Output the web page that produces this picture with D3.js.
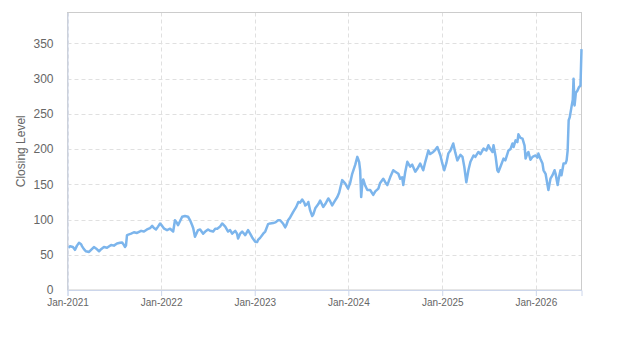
<!DOCTYPE html>
<html>
<head>
<meta charset="utf-8">
<script src="https://cdn.jsdelivr.net/npm/d3@7"></script>
<style>
  body { margin: 0; background: #fff; }
  svg { font-family: "Liberation Sans", Arial, sans-serif; }
</style>
</head>
<body>
<div id="chart"></div>
<script>
// closing level, sampled from the chart
var dates = [
  "2021-01-04","2021-01-11","2021-01-22","2021-01-30","2021-02-07","2021-02-15","2021-02-23","2021-02-27",
  "2021-03-06","2021-03-14","2021-03-26","2021-04-03","2021-04-14","2021-04-22","2021-05-04","2021-05-12",
  "2021-05-23","2021-06-04","2021-06-20","2021-07-01","2021-07-13","2021-07-25","2021-08-02","2021-08-09",
  "2021-08-13","2021-08-17","2021-08-21","2021-08-29","2021-09-06","2021-09-17","2021-09-29","2021-10-15",
  "2021-10-26","2021-11-07","2021-11-19","2021-11-27","2021-12-04","2021-12-12","2021-12-20","2021-12-28",
  "2022-01-05","2022-01-13","2022-01-24","2022-02-05","2022-02-17","2022-02-24","2022-03-04","2022-03-08",
  "2022-03-16","2022-03-24","2022-04-04","2022-04-16","2022-04-24","2022-05-02","2022-05-06","2022-05-13",
  "2022-05-21","2022-05-25","2022-06-02","2022-06-14","2022-06-22","2022-07-03","2022-07-11","2022-07-23",
  "2022-07-31","2022-08-08","2022-08-19","2022-08-27","2022-09-08","2022-09-19","2022-09-27","2022-10-05",
  "2022-10-17","2022-10-24","2022-10-28","2022-11-05","2022-11-13","2022-11-25","2022-12-06","2022-12-14",
  "2022-12-22","2023-01-03","2023-01-10","2023-01-14","2023-01-22","2023-02-03","2023-02-11","2023-02-22",
  "2023-03-02","2023-03-14","2023-03-22","2023-04-02","2023-04-10","2023-04-22","2023-04-30","2023-05-04",
  "2023-05-11","2023-05-19","2023-05-31","2023-06-12","2023-06-20","2023-06-27","2023-07-05","2023-07-13",
  "2023-07-17","2023-07-25","2023-07-29","2023-08-05","2023-08-13","2023-08-17","2023-08-25","2023-09-06",
  "2023-09-13","2023-09-25","2023-10-03","2023-10-15","2023-10-22","2023-10-30","2023-11-07","2023-11-19",
  "2023-11-26","2023-12-08","2023-12-20","2023-12-31","2024-01-08","2024-01-16","2024-01-28","2024-02-05",
  "2024-02-08","2024-02-12","2024-02-16","2024-02-20","2024-02-24","2024-02-28","2024-03-07","2024-03-15",
  "2024-03-26","2024-04-07","2024-04-15","2024-04-27","2024-05-04","2024-05-16","2024-05-24","2024-06-01",
  "2024-06-12","2024-06-24","2024-07-02","2024-07-14","2024-07-21","2024-07-29","2024-08-02","2024-08-10",
  "2024-08-18","2024-08-29","2024-09-06","2024-09-18","2024-09-26","2024-10-07","2024-10-19","2024-10-27",
  "2024-11-08","2024-11-15","2024-11-27","2024-12-05","2024-12-13","2024-12-25","2025-01-01","2025-01-09",
  "2025-01-17","2025-01-25","2025-02-02","2025-02-13","2025-02-21","2025-03-01","2025-03-13","2025-03-21",
  "2025-03-28","2025-04-05","2025-04-13","2025-04-21","2025-05-03","2025-05-10","2025-05-22","2025-05-30",
  "2025-06-11","2025-06-22","2025-06-30","2025-07-08","2025-07-16","2025-07-20","2025-07-28","2025-08-04",
  "2025-08-08","2025-08-16","2025-08-28","2025-09-04","2025-09-16","2025-09-24","2025-10-02","2025-10-06",
  "2025-10-14","2025-10-21","2025-10-25","2025-11-02","2025-11-10","2025-11-18","2025-11-22","2025-11-29",
  "2025-12-03","2025-12-11","2025-12-19","2025-12-31","2026-01-07","2026-01-11","2026-01-19","2026-01-27",
  "2026-01-31","2026-02-08","2026-02-15","2026-02-19","2026-02-27","2026-03-07","2026-03-15","2026-03-19",
  "2026-03-27","2026-03-31","2026-04-07","2026-04-11","2026-04-19","2026-04-27","2026-05-01","2026-05-05",
  "2026-05-09","2026-05-13","2026-05-20","2026-05-25","2026-05-28","2026-06-01","2026-06-06","2026-06-12",
  "2026-06-18","2026-06-24","2026-06-28"
];
var closes = [
  60,62,61,57,63,67,65,62,
  58,55,54,57,61,59,55,58,
  61,60,64,63,66,67,67.5,64,
  61,63,78,79,80,82,81,84,
  83,86,88,91,88,86,90,94.5,
  91,87,85,87,83,99,95,92,
  98,104,105,104,99,92,88,75.5,
  82,85,86,80,83,86,84,83,
  87,87,90,94.5,90,83,85,80,
  84,80,73,80,83,78,85,80,
  74.6,68.5,68,71,74,80,83,93.5,
  94.5,95,96,99,99,94,89,92,
  99,103,111,118,125,124,128.5,124,
  120,122,125,113,105,107,116,122,
  127,118,122,130,126,120,125,132,
  138,156,151,144,152,165,178,189,
  186,182,170,132,150,157,148,142,
  142,135,140,144,152,158,153,149,
  160,170,168,165,158,160,149,168,
  182,175,178,168,172,179.5,170,182,
  198,193,196,199,203,191,180,170,
  180,194,198,208,195,184,192,189,
  175,153,170,182,191,189,196,193,
  200.7,198,205.5,200,196,205.5,190,170,
  167.6,175,186.6,184,198,200,208,203,
  212.5,210,221,216,215,205,186.6,194,
  196,185,189,191,188,193.7,186,179.5,
  170,165,150,142,158,163,170,165,
  149,158,170,163,179.5,180,184,198,
  241,245,260,270,300,262,280,283,
  288,290,342
];
var yTicks = [0, 50, 100, 150, 200, 250, 300, 350];
var xTickLabels = ["Jan-2021","Jan-2022","Jan-2023","Jan-2024","Jan-2025","Jan-2026"];

var width = 623, height = 350;
var margin = {top: 12.5, right: 41.5, bottom: 60, left: 67.5};
var yMax = 394;

var parse = d3.timeParse("%Y-%m-%d");
var data = dates.map(function(d, i) { return {date: parse(d), value: closes[i]}; });
var tickDates = xTickLabels.map(function(d) { return d3.timeParse("%b-%Y")(d); });

var svg = d3.select("#chart").append("svg")
  .attr("width", width)
  .attr("height", height);

var x = d3.scaleTime()
  .domain([parse("2021-01-01"), data[data.length - 1].date])
  .range([margin.left, width - margin.right]);
var y = d3.scaleLinear()
  .domain([0, yMax])
  .range([height - margin.bottom, margin.top]);

// grid
svg.append("g").selectAll("line.h")
  .data(yTicks.slice(1))
  .enter().append("line")
  .attr("x1", margin.left).attr("x2", width - margin.right)
  .attr("y1", function(d) { return Math.round(y(d)) + 0.5; })
  .attr("y2", function(d) { return Math.round(y(d)) + 0.5; })
  .style("stroke", "#e0e0e0")
  .style("stroke-dasharray", "4,3");

svg.append("g").selectAll("line.v")
  .data(tickDates)
  .enter().append("line")
  .attr("x1", function(d) { return Math.round(x(d)) + 0.5; })
  .attr("x2", function(d) { return Math.round(x(d)) + 0.5; })
  .attr("y1", margin.top).attr("y2", height - margin.bottom)
  .style("stroke", "#e0e0e0")
  .style("stroke-dasharray", "4,3");

// frame
svg.append("rect")
  .attr("x", margin.left).attr("y", margin.top)
  .attr("width", width - margin.left - margin.right)
  .attr("height", height - margin.top - margin.bottom)
  .style("fill", "none")
  .style("stroke", "#cccccc");

// line
var line = d3.line()
  .x(function(d) { return x(d.date); })
  .y(function(d) { return y(d.value); });

svg.append("path")
  .datum(data)
  .attr("d", line)
  .style("fill", "none")
  .style("stroke", "#7cb5ec")
  .style("stroke-width", 2.5)
  .style("stroke-linejoin", "round");

// axes
var xAxis = d3.axisBottom(x)
  .tickValues(tickDates)
  .tickFormat(d3.timeFormat("%b-%Y"))
  .tickSize(6)
  .tickPadding(3);
var gx = svg.append("g")
  .attr("transform", "translate(0," + (height - margin.bottom) + ")")
  .call(xAxis);
gx.select(".domain").style("stroke", "#ccd6eb");
gx.selectAll(".tick line").style("stroke", "#ccd6eb");
gx.selectAll("text").style("fill", "#666").style("font-size", "10px");

var yAxis = d3.axisLeft(y)
  .tickValues(yTicks)
  .tickSize(0)
  .tickPadding(14);
var gy = svg.append("g")
  .attr("transform", "translate(" + margin.left + ",0)")
  .call(yAxis);
gy.select(".domain").style("stroke", "#ccd6eb");
gy.selectAll("text").style("fill", "#666").style("font-size", "12px");

svg.append("text")
  .attr("transform", "translate(25," + ((margin.top + height - margin.bottom) / 2) + ") rotate(-90)")
  .attr("text-anchor", "middle")
  .style("fill", "#666")
  .style("font-size", "12px")
  .text("Closing Level");
</script>
</body>
</html>
